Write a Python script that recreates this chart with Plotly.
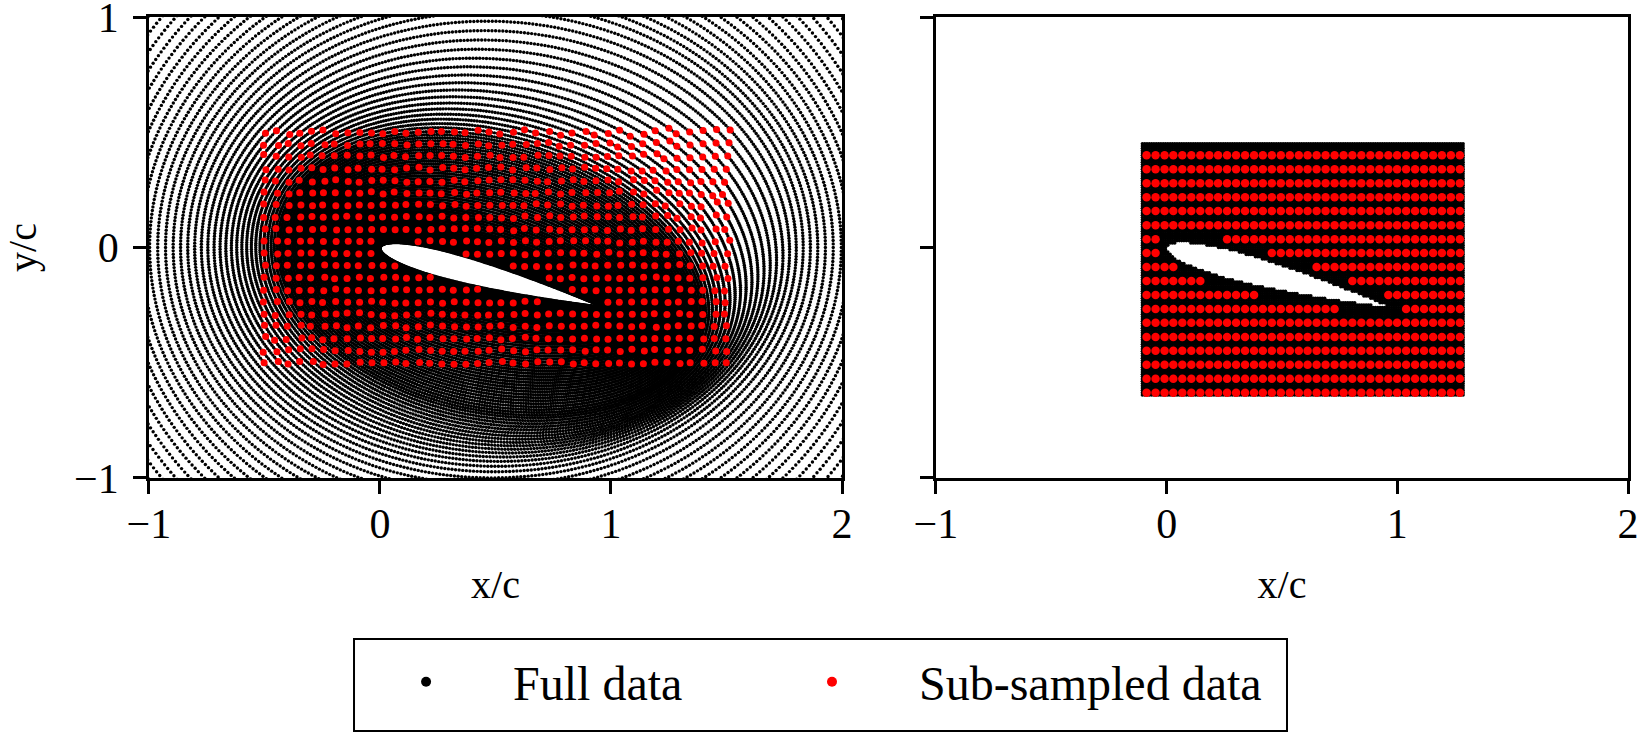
import numpy as np
import plotly.graph_objects as go

# airfoil: NACA 0012 half thickness (chord 1), pitched nose-up about the leading edge
foil_x = [0.0, 0.0125, 0.025, 0.05, 0.075, 0.1, 0.15, 0.2, 0.25, 0.3, 0.4, 0.5, 0.6, 0.7, 0.8, 0.9, 0.95, 1.0]
foil_t = [0.0, 0.01894, 0.02615, 0.03555, 0.042, 0.04683, 0.05345, 0.05737, 0.05941, 0.06002,
          0.05803, 0.05294, 0.04563, 0.03664, 0.02623, 0.01448, 0.00807, 0.00126]
pitch_deg = 15.0

# full data (left): O-mesh rings, distance of each ring from the leading edge
ring_dist = [0.0, 0.002, 0.005, 0.009, 0.014, 0.020, 0.026, 0.033, 0.040, 0.048, 0.056, 0.064,
             0.073, 0.082, 0.091, 0.100, 0.110, 0.120, 0.130, 0.140, 0.150, 0.160, 0.170, 0.181,
             0.192, 0.203, 0.214, 0.225, 0.236, 0.247, 0.258, 0.269, 0.280, 0.291, 0.302, 0.313,
             0.324, 0.335, 0.346, 0.357, 0.368, 0.379, 0.390, 0.401, 0.412, 0.423, 0.434, 0.445,
             0.458, 0.472, 0.487, 0.503, 0.520, 0.538, 0.557, 0.577, 0.598, 0.620, 0.643, 0.667,
             0.692, 0.718, 0.745, 0.773, 0.802, 0.832, 0.863, 0.895, 0.928, 0.962, 0.997, 1.033,
             1.070, 1.108, 1.147, 1.187, 1.228, 1.270, 1.313, 1.357, 1.402, 1.448, 1.495, 1.543,
             1.592, 1.642, 1.693, 1.745, 1.798, 1.852, 1.907, 1.963, 2.020, 2.078]
n_around = 500
outer_r = 2.6
morph_in, morph_out = 0.40, 0.85   # rings turn with the airfoil inside, stay fixed outside

# sub-sampled targets (left)
left_sub_x = [-0.500, -0.449, -0.397, -0.346, -0.295, -0.244, -0.192, -0.141, -0.090, -0.038,
              0.013, 0.064, 0.115, 0.167, 0.218, 0.269, 0.321, 0.372, 0.423, 0.474,
              0.526, 0.577, 0.628, 0.679, 0.731, 0.782, 0.833, 0.885, 0.936, 0.987,
              1.038, 1.090, 1.141, 1.192, 1.244, 1.295, 1.346, 1.397, 1.449, 1.500]
left_sub_y = [-0.500, -0.447, -0.395, -0.342, -0.289, -0.237, -0.184, -0.132, -0.079, -0.026,
              0.026, 0.079, 0.132, 0.184, 0.237, 0.289, 0.342, 0.395, 0.447, 0.500]

# sub-sampled grid (right)
right_sub_x = [-0.087, -0.048, -0.009, 0.029, 0.068, 0.107, 0.146, 0.185, 0.223, 0.262, 0.301, 0.340,
               0.379, 0.417, 0.456, 0.495, 0.534, 0.573, 0.611, 0.650, 0.689, 0.728, 0.767, 0.805,
               0.844, 0.883, 0.922, 0.961, 0.999, 1.038, 1.077, 1.116, 1.155, 1.193, 1.232, 1.271]
right_sub_y = [0.400, 0.339, 0.279, 0.218, 0.158, 0.097, 0.036, -0.024, -0.085, -0.145,
               -0.206, -0.267, -0.327, -0.388, -0.448, -0.509, -0.569, -0.630]
right_gap = 0.036

# full data (right): fine cartesian grid
box_x = (-0.105, 1.285)
box_y = (-0.64, 0.455)
box_step = 0.01

ca, sa = np.cos(np.radians(pitch_deg)), np.sin(np.radians(pitch_deg))
sq_x = np.sqrt(foil_x)


def half_t(xc):
	return np.interp(np.sqrt(np.clip(xc, 0, 1)), sq_x, foil_t)


def inside(x, y):
	xc = x*ca - y*sa
	yc = x*sa + y*ca
	return (xc >= 0) & (xc <= 1) & (np.abs(yc) <= half_t(xc))


################ O-mesh
th = np.linspace(0, 2*np.pi, n_around, endpoint=False)
sx = 0.5 + 0.5*np.cos(th)
sy = np.sign(np.sin(th))*half_t(sx)
ox = 0.5 + outer_r*np.cos(th)
oy = outer_r*np.sin(th)
d = np.array(ring_dist)
s = d/(outer_r - 0.5)
w = np.clip((morph_out - d)/(morph_out - morph_in), 0, 1)
w = 0.5 - 0.5*np.cos(np.pi*w)
mx = sx[None, :] + s[:, None]*(ox - sx)[None, :]
my = sy[None, :] + s[:, None]*(oy - sy)[None, :]
ang = -np.radians(pitch_deg)*w[:, None]
fx = mx*np.cos(ang) - my*np.sin(ang)
fy = mx*np.sin(ang) + my*np.cos(ang)
surf_x, surf_y = fx[0], fy[0]
fx, fy = fx.ravel(), fy.ravel()
keep = (fx > -1.02) & (fx < 2.02) & (fy > -1.02) & (fy < 1.02)
fx, fy = fx[keep], fy[keep]


def wall_dist(x, y):
	return np.sqrt((x[:, None]-surf_x[None, :])**2 + (y[:, None]-surf_y[None, :])**2).min(axis=1)


# left sub-sample: nearest mesh point to each target
gx, gy = np.meshgrid(left_sub_x, left_sub_y)
gx, gy = gx.ravel(), gy.ravel()
ok = ~inside(gx, gy) & (wall_dist(gx, gy) > 0.012)
lx, ly = [], []
for px, py in zip(gx[ok], gy[ok]):
	i = np.argmin((fx-px)**2 + (fy-py)**2)
	lx.append(fx[i])
	ly.append(fy[i])

# right full grid and sub-sample
bx, by = np.meshgrid(np.arange(box_x[0], box_x[1]+1e-9, box_step), np.arange(box_y[0], box_y[1]+1e-9, box_step))
bx, by = bx.ravel(), by.ravel()
m = ~inside(bx, by)
bx, by = bx[m], by[m]

rx, ry = np.meshgrid(right_sub_x, right_sub_y)
rx, ry = rx.ravel(), ry.ravel()
m = ~inside(rx, ry) & (wall_dist(rx, ry) > right_gap)
rx, ry = rx[m], ry[m]

################ figure
traces = []
traces += [go.Scatter(x=fx, y=fy, mode='markers', marker=dict(color='black', size=3.4, line=dict(width=0)),
                      showlegend=False, hoverinfo='skip', xaxis='x', yaxis='y')]
traces += [go.Scatter(x=lx, y=ly, mode='markers', marker=dict(color='red', size=7, line=dict(width=0)),
                      showlegend=False, hoverinfo='skip', xaxis='x', yaxis='y')]
traces += [go.Scatter(x=bx, y=by, mode='markers', marker=dict(color='black', size=3.6, line=dict(width=0)),
                      showlegend=False, hoverinfo='skip', xaxis='x2', yaxis='y2')]
traces += [go.Scatter(x=rx, y=ry, mode='markers', marker=dict(color='red', size=8.5, line=dict(width=0)),
                      showlegend=False, hoverinfo='skip', xaxis='x2', yaxis='y2')]
# legend entries
traces += [go.Scatter(x=[None], y=[None], mode='markers', marker=dict(color='black', size=10),
                      name='Full data' + '\u00a0'*4 + '\u2009')]
traces += [go.Scatter(x=[None], y=[None], mode='markers', marker=dict(color='red', size=10), name='Sub-sampled data')]

ax = dict(showline=True, linecolor='black', linewidth=2.5, mirror=True, ticks='outside', ticklen=13,
          tickwidth=2.5, tickcolor='black', showgrid=False, zeroline=False, automargin=False,
          ticklabeloverflow='allow', tickfont=dict(size=42))
title_font = dict(size=40)

layout = go.Layout(
	width=1642,
	height=733,
	margin=dict(l=0, r=0, t=0, b=0),
	paper_bgcolor='white',
	plot_bgcolor='white',
	font=dict(family='Liberation Serif', size=44, color='black'),
	xaxis=dict(domain=[0.0907, 0.5128], range=[-1, 2], tickvals=[-1, 0, 1, 2], anchor='y', ticklabelstandoff=-6,
	           title=dict(text='x/c', font=title_font, standoff=24), **ax),
	yaxis=dict(domain=[0.3479, 0.9768], range=[-1, 1], tickvals=[-1, 0, 1], anchor='x', ticklabelstandoff=6,
	           title=dict(text='y/c', font=title_font, standoff=31), **ax),
	xaxis2=dict(domain=[0.570, 0.9915], range=[-1, 2], tickvals=[-1, 0, 1, 2], anchor='y2', ticklabelstandoff=-6,
	            title=dict(text='x/c', font=title_font, standoff=24), **ax),
	yaxis2=dict(domain=[0.3479, 0.9768], range=[-1, 1], tickvals=[-1, 0, 1], anchor='x2', showticklabels=False, **ax),
	showlegend=True,
	legend=dict(orientation='h', x=0.2065, xanchor='left', y=0.0696, yanchor='middle',
	            borderwidth=0, bgcolor='rgba(0,0,0,0)', itemwidth=164, font=dict(size=48)),
	shapes=[dict(type='rect', xref='paper', yref='paper', x0=0.2156, x1=0.7838, y0=0.0027, y1=0.1282,
	             line=dict(color='black', width=2))],
)
fig = go.Figure(data=traces, layout=layout)
fig.write_html('out.html', config={'displayModeBar': False},
               post_script="document.body.style.margin='0';document.body.style.overflow='hidden';")
